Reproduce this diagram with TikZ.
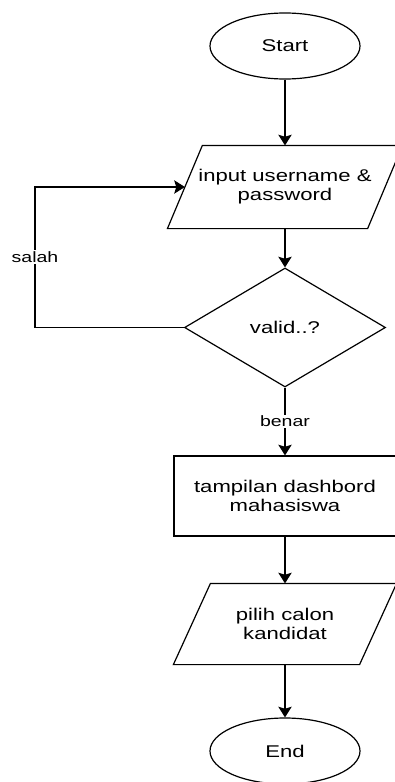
\documentclass[tikz,border=0pt]{standalone}
\usepackage{fontspec}
\setmainfont[FakeStretch=1.3]{Liberation Sans}
\usetikzlibrary{shapes.geometric}
\usetikzlibrary{arrows.meta}

\begin{document}
\begin{tikzpicture}[x=0.75pt,y=-0.75pt,line width=0.9pt]

\tikzset{flow text/.style={font=\fontsize{12.75}{14.25}\selectfont, align=center},
  terminal box/.style={flow text, ellipse, draw,
    minimum width=112.5pt, minimum height=49.5pt, inner sep=0pt},
  data box/.style={flow text, rectangle, inner sep=0pt, minimum height=60pt},
  process box/.style={flow text, rectangle, draw,
    minimum width=166.5pt, minimum height=60pt},
  decision box/.style={flow text, diamond, draw,
    minimum width=150.75pt, minimum height=89.25pt, inner sep=0pt},
  flow arrow/.style={-{Stealth[length=8pt,width=10pt,inset=1.5pt]}},
  edge label/.style={fill=white, inner sep=1pt,
    font=\fontsize{11.25}{13}\selectfont}
}
\useasboundingbox (0,0) rectangle (395,782);

\node[terminal box] (start) at (285,46) {Start};
\node[data box, minimum width=149.25pt, minimum height=61.5pt] (input)
  at (285,187) {input username \&\\password};
\node[decision box] (valid) at (285,327.5) {valid..?};
\node[process box] (dashbord) at (285,496) {tampilan dashbord\\mahasiswa};
\node[data box, minimum width=138.75pt] (pilih) at (285,624)
  {pilih calon\\kandidat};
\node[terminal box] (end) at (285,751) {End};
\coordinate (bend) at (35,187);

% slanted outlines of the two data boxes
\draw ([xshift=13.1pt]input.north west) -- ([xshift=13.1pt]input.north east)
  -- ([xshift=-13.1pt]input.south east) -- ([xshift=-13.1pt]input.south west)
  -- cycle;
\draw ([xshift=13.9pt]pilih.north west) -- ([xshift=13.9pt]pilih.north east)
  -- ([xshift=-13.9pt]pilih.south east) -- ([xshift=-13.9pt]pilih.south west)
  -- cycle;

\draw[flow arrow] (start) -- (input);
\draw[flow arrow] (input) -- (valid);
\draw[flow arrow] (valid.west) -| node[edge label, pos=0.75] {salah} (bend)
  -- (input.west);
\draw[flow arrow] (valid) -- node[edge label] {benar} (dashbord);
\draw[flow arrow] (dashbord) -- (pilih);
\draw[flow arrow] (pilih) -- (end);
\end{tikzpicture}
\end{document}
